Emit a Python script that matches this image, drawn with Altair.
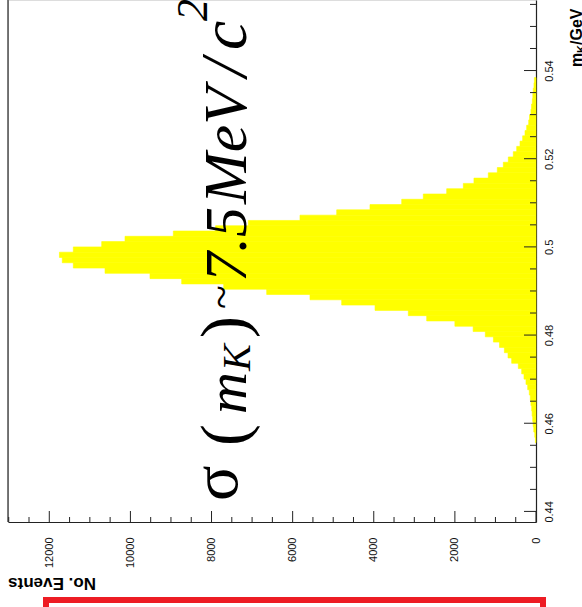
import altair as alt
import pandas as pd

# K0 -> pi pi invariant mass: 100 bins of 1.2 MeV between 0.4376 and 0.5576 GeV.
# Only the populated bins are listed, starting at bin index FIRST_BIN.
BIN_START = 0.4376
BIN_WIDTH = 0.0012
FIRST_BIN = 15
counts = [15, 30, 55, 70, 81, 95, 106, 125, 140, 165,
          205, 247, 296, 353, 436, 600, 690, 780, 900, 1050,
          1250, 1550, 2000, 2695, 3148, 3969, 4791, 5572, 6640, 7700,
          8736, 9517, 10626, 11408, 11680, 11750, 11408, 10708, 10133, 8942,
          7900, 7093, 5819, 4914, 4093, 3311, 2779, 2202, 1792, 1530,
          1176, 954, 806, 683, 560, 476, 394, 329, 271, 230,
          180, 160, 125, 110, 90, 78, 68, 50, 40]

mass_labels = [0.44, 0.46, 0.48, 0.50, 0.52, 0.54]
mass_minor = [round(0.44 + 0.005 * k, 3) for k in range(24)]
count_labels = [0, 2000, 4000, 6000, 8000, 10000, 12000]
count_minor = [500 * k for k in range(27)]

COUNT_MAX = 13018
MASS_MIN, MASS_MAX = 0.4376, 0.5560

W, H = 528, 522

lo = [BIN_START + BIN_WIDTH * (FIRST_BIN + i) for i in range(len(counts))]
hist = pd.DataFrame({"lo": lo, "hi": [v + BIN_WIDTH for v in lo], "n": counts})

xscale = alt.Scale(domain=[0, COUNT_MAX], reverse=True, nice=False, zero=False)
yscale = alt.Scale(domain=[MASS_MIN, MASS_MAX], nice=False, zero=False)

bars = alt.Chart(hist).mark_rect(color="#ffff00", stroke="#ffff00", strokeWidth=0.6).encode(
    x=alt.X("n:Q", scale=xscale, axis=alt.Axis(
        orient="bottom", values=count_labels, format="d", title=None,
        labelAngle=270, labelAlign="right", labelBaseline="middle",
        labelPadding=15, ticks=False, grid=False,
        domainColor="#222", domainWidth=1.2,
        labelFont="Liberation Sans", labelFontSize=11, labelColor="#111")),
    x2=alt.datum(0),
    y=alt.Y("lo:Q", scale=yscale, axis=alt.Axis(
        orient="right", values=mass_labels, format=".2~f", title=None,
        labelAngle=270, labelAlign="center", labelBaseline="top",
        labelPadding=7, ticks=False, grid=False,
        domainColor="#222", domainWidth=1.2,
        labelFont="Liberation Sans", labelFontSize=11, labelColor="#111")),
    y2="hi:Q",
)

# tick marks drawn inward from the frame
mt = pd.DataFrame({"m": mass_minor, "major": [abs(v * 50 - round(v * 50)) < 1e-6 for v in mass_minor]})
ct = pd.DataFrame({"c": count_minor, "major": [v % 2000 == 0 for v in count_minor]})

mass_major_ticks = alt.Chart(mt).transform_filter("datum.major").mark_rule(color="#222", strokeWidth=1).encode(
    y=alt.Y("m:Q", scale=yscale), x=alt.value(W), x2=alt.value(W - 12))
mass_minor_ticks = alt.Chart(mt).transform_filter("!datum.major").mark_rule(color="#222", strokeWidth=1).encode(
    y=alt.Y("m:Q", scale=yscale), x=alt.value(W), x2=alt.value(W - 6))
count_major_ticks = alt.Chart(ct).transform_filter("datum.major").mark_rule(color="#222", strokeWidth=1).encode(
    x=alt.X("c:Q", scale=xscale), y=alt.value(H), y2=alt.value(H - 11))
count_minor_ticks = alt.Chart(ct).transform_filter("!datum.major").mark_rule(color="#222", strokeWidth=1).encode(
    x=alt.X("c:Q", scale=xscale), y=alt.value(H), y2=alt.value(H - 5))

left_frame = alt.Chart().mark_rule(color="#222", strokeWidth=1.2).encode(
    x=alt.value(0), y=alt.value(0), y2=alt.value(H))

# resolution annotation "σ(m_K) ~ 7.5 MeV / c^2", written along the mass axis;
# each piece is anchored at (counts, mass) where its baseline starts
ann = pd.DataFrame([
    {"t": "σ", "c": 7372, "m": 0.44236, "size": 66, "italic": False},
    {"t": "(", "c": 7150, "m": 0.45484, "size": 66, "italic": False},
    {"t": "m", "c": 7150, "m": 0.46210, "size": 58, "italic": True},
    {"t": "K", "c": 7051, "m": 0.47185, "size": 40, "italic": True},
    {"t": ")", "c": 7150, "m": 0.47933, "size": 66, "italic": False},
    {"t": "~", "c": 7397, "m": 0.48591, "size": 44, "italic": False},
    {"t": "7.5", "c": 7150, "m": 0.49203, "size": 60, "italic": True},
    {"t": "MeV", "c": 7150, "m": 0.50973, "size": 62, "italic": True},
    {"t": "/", "c": 7150, "m": 0.53853, "size": 66, "italic": True},
    {"t": "c", "c": 7150, "m": 0.54465, "size": 66, "italic": True},
    {"t": "2", "c": 8111, "m": 0.55123, "size": 44, "italic": True},
])


def annotation_layer(italic):
    return alt.Chart(ann).transform_filter(
        "datum.italic" if italic else "!datum.italic"
    ).mark_text(
        angle=270, align="left", baseline="alphabetic", font="Liberation Serif",
        fontStyle="italic" if italic else "normal", color="black",
    ).encode(
        x=alt.X("c:Q", scale=xscale), y=alt.Y("m:Q", scale=yscale),
        text="t:N", size=alt.Size("size:Q", scale=None, legend=None),
    )


# axis titles
ytitle = alt.Chart().mark_text(angle=180, align="left", baseline="middle",
                               font="Liberation Sans", fontWeight="bold", fontSize=17).encode(
    x=alt.value(88), y=alt.value(583), text=alt.value("No. Events"))
mtitle_m = alt.Chart().mark_text(angle=270, align="left", baseline="alphabetic",
                                 font="Liberation Sans", fontWeight="bold", fontSize=16).encode(
    x=alt.value(574), y=alt.value(67), text=alt.value("m"))
mtitle_k = alt.Chart().mark_text(angle=270, align="left", baseline="alphabetic",
                                 font="Liberation Sans", fontWeight="bold", fontSize=11).encode(
    x=alt.value(577), y=alt.value(53), text=alt.value("K"))
mtitle_u = alt.Chart().mark_text(angle=270, align="left", baseline="alphabetic",
                                 font="Liberation Sans", fontWeight="bold", fontSize=16).encode(
    x=alt.value(574), y=alt.value(45), text=alt.value("/GeV"))

# red frame of the pad underneath
red_box = alt.Chart().mark_rect(fill=None, stroke="#ed1c24", strokeWidth=6).encode(
    x=alt.value(38), x2=alt.value(535), y=alt.value(600), y2=alt.value(640))

chart = alt.layer(
    bars, mass_major_ticks, mass_minor_ticks, count_major_ticks, count_minor_ticks,
    left_frame, annotation_layer(False), annotation_layer(True),
    ytitle, mtitle_m, mtitle_k, mtitle_u, red_box,
).properties(
    width=W, height=H,
    padding={"left": 8, "top": 0, "right": 46, "bottom": 85},
    autosize=alt.AutoSizeParams(type="none"),
).configure_view(stroke=None).configure(background="white")

chart.save("out.html", embed_options={"renderer": "svg", "actions": False})
